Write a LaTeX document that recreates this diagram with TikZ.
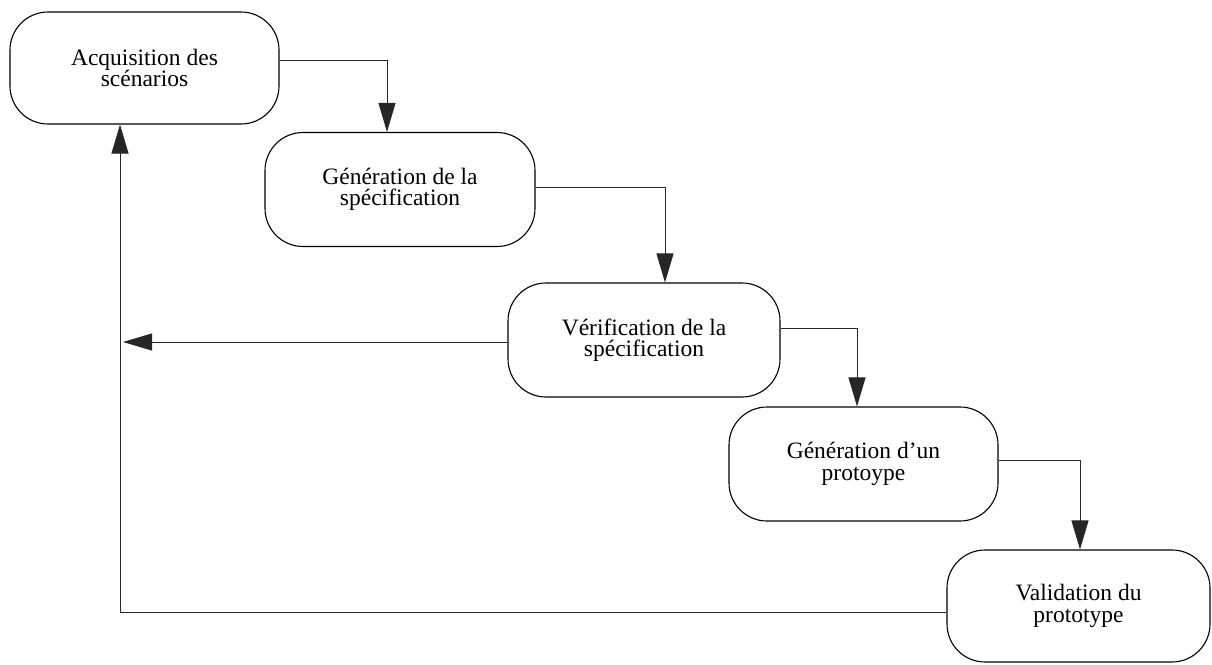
\documentclass[tikz,border=0pt]{standalone}
\usepackage{fontspec}
\setmainfont{Liberation Serif}
\usetikzlibrary{arrows.meta}
\begin{document}
\begin{tikzpicture}[x=1pt,y=-1pt,
  stagebox/.style={draw, line width=1.1pt, rounded corners=38pt,
    minimum width=270pt, minimum height=114pt, inner sep=0pt,
    align=center, font=\fontsize{23.5}{21.5}\selectfont},
  flow/.style={line width=0.9pt, color=black!85,
    -{Triangle[length=29pt,width=17pt]}},
  plain/.style={line width=0.9pt, color=black!85}]
\useasboundingbox (0,0) rectangle (1212,664);

% the five stages of the cycle
\node[stagebox, minimum width=269pt, minimum height=112pt] (acq) at (144.5,68)
  {Acquisition des\\scénarios};
\node[stagebox] (gen) at (400,189.5) {Génération de la\\spécification};
\node[stagebox, minimum width=272pt] (ver) at (644,340)
  {Vérification de la\\spécification};
\node[stagebox, minimum width=269pt] (proto) at (863.5,464)
  {Génération d'un\\protoype};
\node[stagebox, minimum width=263pt, minimum height=112pt] (val) at (1078.5,606)
  {Validation du\\prototype};

% forward steps
\draw[flow] ([yshift=8pt]acq.east) -| ([xshift=-13pt]gen.north);
\draw[flow] ([yshift=2.5pt]gen.east) -| ([xshift=21pt]ver.north);
\draw[flow] ([yshift=12pt]ver.east) -| ([xshift=-6.5pt]proto.north);
\draw[flow] ([yshift=4pt]proto.east) -| ([xshift=1.5pt]val.north);

% feedback loops
\draw[flow] ([yshift=-6pt]val.west) -| ([xshift=-24.5pt]acq.south);
\coordinate (ret) at (123,342);
\draw[flow] ([yshift=-2pt]ver.west) -- (ret);
\end{tikzpicture}
\end{document}
